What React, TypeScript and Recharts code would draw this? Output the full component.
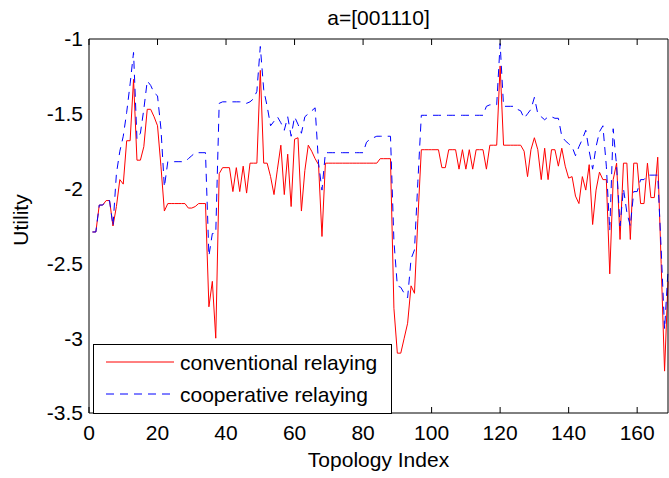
import { LineChart, Line, XAxis, YAxis, Legend } from 'recharts';

// Utility per topology (index 1..169)
const conventional = [
  -2.29, -2.29, -2.11, -2.11, -2.08, -2.08, -2.25, -2.12, -1.94, -1.97,
  -1.68, -1.68, -1.27, -1.81, -1.81, -1.72, -1.47, -1.47, -1.52, -1.58,
  -1.85, -2.15, -2.1, -2.1, -2.1, -2.1, -2.1, -2.1, -2.13, -2.13,
  -2.12, -2.1, -2.1, -2.1, -2.79, -2.62, -3.0, -1.9, -1.86, -1.86,
  -1.86, -2.02, -1.86, -2.02, -1.85, -2.03, -1.83, -1.83, -1.83, -1.21,
  -1.83, -1.83, -1.92, -2.04, -1.87, -1.71, -2.04, -1.77, -2.12, -1.67,
  -1.66, -2.15, -1.88, -1.71, -1.75, -1.8, -1.84, -2.32, -1.83, -1.83,
  -1.83, -1.83, -1.83, -1.83, -1.83, -1.83, -1.83, -1.83, -1.83, -1.83,
  -1.83, -1.83, -1.83, -1.83, -1.8, -1.8, -1.8, -1.8, -2.8, -3.1,
  -3.1, -3.0, -2.9, -2.65, -2.7, -2.2, -1.74, -1.74, -1.74, -1.74,
  -1.74, -1.74, -1.86, -1.86, -1.74, -1.74, -1.74, -1.87, -1.74, -1.87,
  -1.74, -1.87, -1.74, -1.74, -1.74, -1.87, -1.71, -1.71, -1.71, -1.18,
  -1.71, -1.71, -1.71, -1.71, -1.71, -1.71, -1.75, -1.92, -1.74, -1.66,
  -1.74, -1.94, -1.73, -1.94, -1.74, -1.74, -1.85, -1.73, -1.85, -1.93,
  -1.92, -2.05, -2.1, -1.92, -2.01, -1.84, -2.24, -2.01, -1.89, -1.94,
  -1.94, -2.57, -1.94, -1.83, -2.34, -1.83, -1.83, -2.34, -1.83, -1.83,
  -2.1, -2.1, -1.83, -2.06, -2.06, -1.79, -2.5, -3.22, -2.62,
];

const cooperative = [
  -2.29, -2.29, -2.11, -2.11, -2.08, -2.08, -2.25, -1.9, -1.75, -1.65,
  -1.49, -1.3, -1.09, -1.67, -1.63, -1.47, -1.28, -1.31, -1.36, -1.38,
  -1.6, -1.99, -1.82, -1.82, -1.82, -1.82, -1.82, -1.82, -1.8, -1.78,
  -1.76, -1.76, -1.76, -1.76, -2.45, -2.3, -2.3, -1.43, -1.42, -1.42,
  -1.42, -1.42, -1.42, -1.42, -1.42, -1.43, -1.42, -1.4, -1.35, -1.05,
  -1.34, -1.45, -1.58, -1.55, -1.52, -1.56, -1.61, -1.52, -1.65, -1.52,
  -1.57, -1.63, -1.52, -1.5, -1.48, -1.46, -1.83, -2.01, -1.76, -1.76,
  -1.76, -1.76, -1.76, -1.76, -1.76, -1.76, -1.76, -1.76, -1.76, -1.76,
  -1.69, -1.67, -1.66, -1.65, -1.65, -1.65, -1.65, -1.65, -2.35, -2.65,
  -2.66, -2.7, -2.73, -2.47, -2.41, -1.95, -1.51, -1.51, -1.51, -1.51,
  -1.51, -1.51, -1.51, -1.51, -1.51, -1.51, -1.51, -1.51, -1.51, -1.51,
  -1.51, -1.51, -1.51, -1.51, -1.51, -1.45, -1.44, -1.44, -1.44, -1.03,
  -1.45, -1.45, -1.45, -1.45, -1.47, -1.48, -1.53, -1.5, -1.47, -1.39,
  -1.5, -1.52, -1.54, -1.52, -1.52, -1.53, -1.53, -1.65, -1.68, -1.7,
  -1.72, -1.78, -1.72, -1.67, -1.61, -1.75, -1.87, -1.72, -1.62, -1.58,
  -1.85, -2.28, -1.6, -1.85, -2.25, -2.0, -2.16, -2.25, -2.02, -2.02,
  -1.94, -1.94, -1.91, -1.91, -1.91, -1.91, -2.4, -2.94, -2.55,
];

const xTicks = [0, 20, 40, 60, 80, 100, 120, 140, 160];
const yTicks = [-3.5, -3, -2.5, -2, -1.5, -1];

const series = [
  { key: 'conventional', name: 'conventional relaying', color: '#ff0000', dash: undefined },
  { key: 'cooperative', name: 'cooperative relaying', color: '#0000ff', dash: '8 6' },
];

const FONT = '"Liberation Sans", Arial, Helvetica, sans-serif';
const WIDTH = 669;
const HEIGHT = 478;
const TICK_IN = 6;

const chartData = conventional.map((value, k) => ({
  topology: k + 1,
  conventional: value,
  cooperative: cooperative[k],
}));

// tick marks only, no label text (used by the inward-tick axes)
const noLabel = () => <g />;

// MATLAB-style boxed legend
const renderLegend = () => (
  <svg width={299} height={70} style={{ display: 'block', fontFamily: FONT }}>
    <rect x={0.5} y={0.5} width={298} height={69} fill="#fff" stroke="#000" />
    {series.map((s, i) => (
      <g key={s.key}>
        <line
          x1={13}
          x2={81}
          y1={18 + i * 32}
          y2={18 + i * 32}
          stroke={s.color}
          strokeWidth={1}
          strokeDasharray={s.dash}
        />
        <text x={87} y={25.5 + i * 32} fontSize={21} fill="#000">
          {s.name}
        </text>
      </g>
    ))}
  </svg>
);

export default function App() {
  const domainX: [number, number] = [0, 169];
  const domainY: [number, number] = [-3.5, -1];

  return (
    <div
      style={{
        position: 'absolute',
        left: 0,
        top: 0,
        width: WIDTH,
        height: HEIGHT,
        background: '#fff',
        fontFamily: FONT,
      }}
    >
      <LineChart
        width={WIDTH}
        height={HEIGHT}
        data={chartData}
        margin={{ top: 39, right: 1, bottom: 0, left: 0 }}
      >
        {/* main axes with labels */}
        <XAxis
          dataKey="topology"
          type="number"
          domain={domainX}
          ticks={xTicks}
          height={65}
          tickLine={false}
          tickSize={0}
          tickMargin={12}
          axisLine={{ stroke: '#000' }}
          tick={{ fontSize: 21, fill: '#000', fontFamily: FONT }}
          label={{
            value: 'Topology Index',
            position: 'insideBottom',
            offset: 11,
            fontSize: 21,
            fill: '#000',
            fontFamily: FONT,
          }}
        />
        <YAxis
          type="number"
          domain={domainY}
          ticks={yTicks}
          width={89}
          tickLine={false}
          tickSize={0}
          tickMargin={6}
          axisLine={{ stroke: '#000' }}
          tick={{ fontSize: 21, fill: '#000', fontFamily: FONT }}
        />

        {/* inward tick marks and the remaining box edges */}
        <XAxis
          xAxisId="bottomTicks"
          dataKey="topology"
          type="number"
          domain={domainX}
          ticks={xTicks}
          mirror
          tick={noLabel}
          tickSize={TICK_IN}
          axisLine={false}
          tickLine={{ stroke: '#000' }}
        />
        <XAxis
          xAxisId="top"
          orientation="top"
          dataKey="topology"
          type="number"
          domain={domainX}
          ticks={xTicks}
          mirror
          tick={noLabel}
          tickSize={TICK_IN}
          axisLine={{ stroke: '#000' }}
          tickLine={{ stroke: '#000' }}
        />
        <YAxis
          yAxisId="leftTicks"
          type="number"
          domain={domainY}
          ticks={yTicks}
          mirror
          tick={noLabel}
          tickSize={TICK_IN}
          axisLine={false}
          tickLine={{ stroke: '#000' }}
        />
        <YAxis
          yAxisId="right"
          orientation="right"
          type="number"
          domain={domainY}
          ticks={yTicks}
          mirror
          tick={noLabel}
          tickSize={TICK_IN}
          axisLine={{ stroke: '#000' }}
          tickLine={{ stroke: '#000' }}
        />

        {series.map((s) => (
          <Line
            key={s.key}
            type="linear"
            dataKey={s.key}
            name={s.name}
            stroke={s.color}
            strokeWidth={1}
            strokeDasharray={s.dash}
            dot={false}
            activeDot={false}
            isAnimationActive={false}
          />
        ))}

        <Legend
          layout="vertical"
          align="center"
          verticalAlign="middle"
          content={renderLegend}
          wrapperStyle={{ left: 93, top: 344, width: 299, height: 70 }}
        />
      </LineChart>

      {/* title and y label */}
      <svg
        width={WIDTH}
        height={HEIGHT}
        style={{ position: 'absolute', left: 0, top: 0, pointerEvents: 'none', fontFamily: FONT }}
      >
        <text x={378.5} y={25} textAnchor="middle" fontSize={21} fill="#000">
          a=[001110]
        </text>
        <text
          x={28}
          y={220}
          textAnchor="middle"
          fontSize={21}
          fill="#000"
          transform="rotate(-90 28 220)"
        >
          Utility
        </text>
      </svg>
    </div>
  );
}
